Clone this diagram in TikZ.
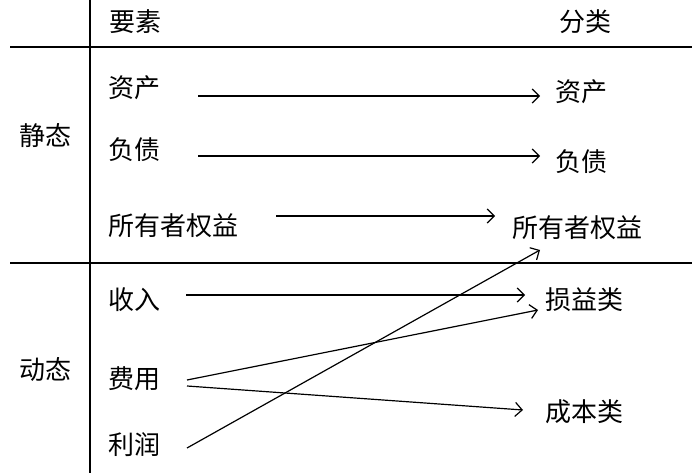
\documentclass[tikz,border=0pt]{standalone}
\usepackage{fontspec}
\setmainfont{Noto Sans CJK SC}
\usetikzlibrary{arrows.meta}
\begin{document}
\begin{tikzpicture}[x=1pt,y=-1pt,
  lbl/.style={font=\fontsize{26}{30}\selectfont,inner sep=0pt},
  arr/.style={-{Straight Barb[length=7pt,width=14pt]},line width=1.2pt},
  rule/.style={line width=1.2pt}]
\useasboundingbox (0,0) rectangle (692,473);
\draw[rule] (10,47) -- (692,47);
\draw[rule] (10,263) -- (692,263);
\draw[rule] (90,0) -- (90,473);
\node[lbl] (h1) at (135,22) {要素};
\node[lbl] (h2) at (585,22) {分类};
\node[lbl] (s) at (45,136) {静态};
\node[lbl] (d) at (45,370) {动态};
\node[lbl,anchor=west] (a1) at (108,88) {资产};
\node[lbl,anchor=west] (a2) at (108,150) {负债};
\node[lbl,anchor=west] (a3) at (108,226) {所有者权益};
\node[lbl,anchor=west] (a4) at (108,300) {收入};
\node[lbl,anchor=west] (a5) at (108,379) {费用};
\node[lbl,anchor=west] (a6) at (108,445) {利润};
\node[lbl,anchor=west] (b1) at (555,92) {资产};
\node[lbl,anchor=west] (b2) at (555,162) {负债};
\node[lbl,anchor=west] (b3) at (512,228) {所有者权益};
\node[lbl,anchor=west] (b4) at (545,300) {损益类};
\node[lbl,anchor=west] (b5) at (545,412) {成本类};
\coordinate (p1) at (198,96); \coordinate (q1) at (540,96);
\coordinate (p2) at (198,156); \coordinate (q2) at (540,156);
\coordinate (p3) at (276,216); \coordinate (q3) at (495,216);
\coordinate (p4) at (186,295); \coordinate (q4) at (525,295);
\coordinate (p5) at (187,380); \coordinate (q5) at (538,310);
\coordinate (p6) at (187,386); \coordinate (q6) at (523,410);
\coordinate (p7) at (187,448); \coordinate (q7) at (540,250);
\foreach \i in {1,...,7} \draw[arr] (p\i) -- (q\i);
\end{tikzpicture}
\end{document}
